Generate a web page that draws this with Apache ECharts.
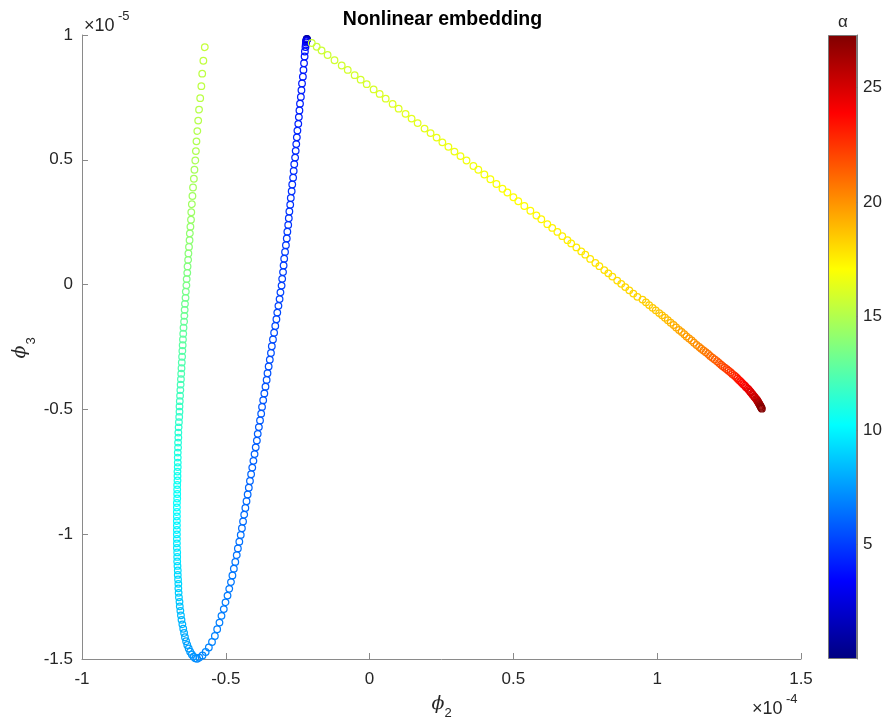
<!DOCTYPE html>
<html>
<head>
<meta charset="utf-8">
<script src="https://cdn.jsdelivr.net/npm/echarts@6/dist/echarts.min.js"></script>
<style>
  html, body { margin: 0; padding: 0; background: #ffffff; }
  #chart { width: 885px; height: 720px; }
</style>
</head>
<body>
<div id="chart"></div>
<script>
// Nonlinear embedding: trajectory in the (phi2, phi3) plane, coloured by alpha.
// phi2 values are in units of 1e-4, phi3 values in units of 1e-5.

// Descending branch (starts at the top, runs down to the bottom of the U)
const descentPhi2 = [
  -0.218, -0.218, -0.219, -0.219, -0.220, -0.220, -0.221, -0.222, -0.223, -0.225,
  -0.226, -0.228, -0.230, -0.232, -0.235, -0.237, -0.239, -0.242, -0.244, -0.246,
  -0.248, -0.251, -0.253, -0.255, -0.257, -0.259, -0.262, -0.264, -0.266, -0.269,
  -0.271, -0.274, -0.276, -0.279, -0.281, -0.283, -0.286, -0.288, -0.291, -0.294,
  -0.297, -0.299, -0.301, -0.304, -0.306, -0.310, -0.313, -0.317, -0.321, -0.324,
  -0.328, -0.332, -0.336, -0.340, -0.343, -0.347, -0.351, -0.355, -0.358, -0.362,
  -0.366, -0.370, -0.374, -0.377, -0.381, -0.385, -0.389, -0.392, -0.396, -0.400,
  -0.404, -0.408, -0.412, -0.416, -0.420, -0.424, -0.428, -0.432, -0.436, -0.440,
  -0.444, -0.448, -0.453, -0.458, -0.462, -0.467, -0.472, -0.477, -0.482, -0.488,
  -0.494, -0.501, -0.507, -0.515, -0.522, -0.530, -0.538, -0.548, -0.559, -0.570,
  -0.581, -0.592
];
const descentPhi3 = [
  0.984, 0.983, 0.982, 0.980, 0.978, 0.975, 0.970, 0.962, 0.952, 0.934,
  0.914, 0.887, 0.860, 0.833, 0.806, 0.779, 0.752, 0.725, 0.698, 0.671,
  0.644, 0.617, 0.590, 0.563, 0.536, 0.509, 0.482, 0.455, 0.428, 0.401,
  0.374, 0.347, 0.320, 0.293, 0.266, 0.239, 0.212, 0.185, 0.158, 0.131,
  0.104, 0.077, 0.050, 0.023, -0.004, -0.031, -0.058, -0.085, -0.112, -0.139,
  -0.166, -0.193, -0.220, -0.247, -0.274, -0.301, -0.328, -0.355, -0.382, -0.409,
  -0.436, -0.463, -0.490, -0.517, -0.544, -0.571, -0.598, -0.625, -0.652, -0.679,
  -0.706, -0.733, -0.760, -0.787, -0.814, -0.841, -0.868, -0.895, -0.922, -0.949,
  -0.976, -1.003, -1.030, -1.057, -1.084, -1.111, -1.138, -1.165, -1.192, -1.219,
  -1.246, -1.273, -1.300, -1.327, -1.354, -1.381, -1.408, -1.432, -1.454, -1.472,
  -1.486, -1.495
];
const descentAlpha = [
  0.3, 0.8, 1.3, 1.8, 2.3, 2.7, 3.1, 3.4, 3.7, 3.9,
  4.0, 4.0, 4.1, 4.1, 4.1, 4.2, 4.2, 4.2, 4.3, 4.3,
  4.3, 4.4, 4.4, 4.4, 4.5, 4.5, 4.5, 4.6, 4.6, 4.6,
  4.7, 4.7, 4.7, 4.8, 4.8, 4.8, 4.9, 4.9, 4.9, 5.0,
  5.0, 5.0, 5.1, 5.1, 5.1, 5.2, 5.2, 5.2, 5.3, 5.3,
  5.3, 5.4, 5.4, 5.4, 5.5, 5.5, 5.5, 5.6, 5.6, 5.6,
  5.7, 5.7, 5.7, 5.8, 5.8, 5.8, 5.9, 5.9, 5.9, 6.0,
  6.0, 6.0, 6.1, 6.1, 6.1, 6.2, 6.2, 6.2, 6.3, 6.3,
  6.3, 6.4, 6.4, 6.4, 6.5, 6.5, 6.5, 6.6, 6.6, 6.6,
  6.7, 6.7, 6.7, 6.8, 6.8, 6.8, 6.9, 6.9, 6.9, 7.0,
  7.0, 7.0
];

// Rising branch (left side of the U, bottom to top)
const risePhi2 = [
  -0.600, -0.606, -0.612, -0.618, -0.624, -0.629, -0.634, -0.638, -0.642, -0.645,
  -0.648, -0.651, -0.654, -0.656, -0.658, -0.660, -0.661, -0.663, -0.664, -0.665,
  -0.665, -0.666, -0.667, -0.667, -0.668, -0.669, -0.669, -0.669, -0.670, -0.670,
  -0.670, -0.670, -0.670, -0.670, -0.670, -0.670, -0.670, -0.670, -0.670, -0.669,
  -0.669, -0.669, -0.669, -0.668, -0.668, -0.668, -0.667, -0.667,
  -0.667, -0.667, -0.666, -0.666, -0.665, -0.665, -0.664, -0.663, -0.662, -0.661,
  -0.661, -0.660, -0.659, -0.658, -0.657, -0.656, -0.655, -0.654, -0.653, -0.652,
  -0.651, -0.650, -0.649, -0.648, -0.647, -0.645, -0.644, -0.643, -0.642, -0.640,
  -0.639, -0.637, -0.636, -0.634, -0.633, -0.631, -0.630, -0.628, -0.626, -0.625,
  -0.623, -0.621,
  -0.620, -0.618, -0.616, -0.614, -0.611, -0.609, -0.606, -0.604, -0.602, -0.599,
  -0.596, -0.593, -0.589, -0.585, -0.582, -0.578, -0.573
];
const risePhi3 = [
  -1.499, -1.497, -1.491, -1.482, -1.471, -1.458, -1.444, -1.429, -1.413, -1.396,
  -1.379, -1.361, -1.343, -1.325, -1.307, -1.289, -1.271, -1.253, -1.235, -1.217,
  -1.199, -1.181, -1.163, -1.145, -1.127, -1.109, -1.091, -1.073, -1.055, -1.037,
  -1.019, -1.001, -0.983, -0.965, -0.947, -0.929, -0.911, -0.893, -0.875, -0.857,
  -0.839, -0.821, -0.803, -0.785, -0.767, -0.749, -0.731, -0.713,
  -0.693, -0.673, -0.653, -0.633, -0.613, -0.593, -0.572, -0.551, -0.530, -0.509,
  -0.488, -0.467, -0.445, -0.423, -0.401, -0.379, -0.357, -0.335, -0.312, -0.289,
  -0.266, -0.243, -0.220, -0.197, -0.173, -0.149, -0.125, -0.101, -0.077, -0.053,
  -0.028, -0.003, 0.022, 0.047, 0.073, 0.099, 0.125, 0.151, 0.178, 0.205,
  0.232, 0.260,
  0.290, 0.322, 0.355, 0.389, 0.424, 0.460, 0.497, 0.535, 0.574, 0.615,
  0.657, 0.701, 0.747, 0.795, 0.845, 0.897, 0.951
];
const riseAlpha = [
  7.1, 7.2, 7.3, 7.4, 7.5, 7.6, 7.7, 7.8, 7.9, 8.0,
  8.1, 8.2, 8.3, 8.4, 8.5, 8.6, 8.7, 8.8, 8.9, 9.0,
  9.1, 9.2, 9.2, 9.3, 9.4, 9.4, 9.5, 9.6, 9.6, 9.7,
  9.8, 9.8, 9.9, 10.0, 10.0, 10.1, 10.2, 10.2, 10.3, 10.4,
  10.4, 10.5, 10.6, 10.6, 10.7, 10.8, 10.8, 10.9,
  11.0, 11.1, 11.2, 11.2, 11.3, 11.4, 11.5, 11.6, 11.6, 11.7,
  11.8, 11.9, 12.0, 12.0, 12.1, 12.2, 12.3, 12.4, 12.4, 12.5,
  12.6, 12.7, 12.8, 12.8, 12.9, 13.0, 13.1, 13.2, 13.2, 13.3,
  13.4, 13.5, 13.6, 13.6, 13.7, 13.8, 13.9, 14.0, 14.0, 14.1,
  14.2, 14.3,
  14.4, 14.5, 14.5, 14.6, 14.7, 14.7, 14.8, 14.9, 14.9, 15.0,
  15.1, 15.1, 15.2, 15.3, 15.3, 15.4, 15.5
];

// Sweeping branch (from the top down to the lower right end)
const sweepPhi2 = [
  -0.201, -0.184, -0.167, -0.146, -0.122, -0.097, -0.076, -0.052, -0.031, -0.010,
  0.014, 0.035, 0.056, 0.080, 0.101, 0.125, 0.146, 0.167, 0.191, 0.212,
  0.233, 0.253, 0.274, 0.295, 0.316, 0.337, 0.361, 0.378, 0.399, 0.420,
  0.441, 0.462, 0.479, 0.500, 0.517, 0.538, 0.559, 0.580, 0.597, 0.618,
  0.635, 0.653, 0.670, 0.688, 0.701, 0.719, 0.736, 0.750, 0.767, 0.785,
  0.799, 0.816, 0.830, 0.844, 0.861, 0.875, 0.889, 0.903, 0.917, 0.931,
  0.949, 0.961, 0.972, 0.984, 0.995, 1.007,
  1.017, 1.027, 1.037, 1.047, 1.057, 1.066, 1.076,
  1.085, 1.094, 1.102, 1.111, 1.120, 1.128, 1.137, 1.146,
  1.153, 1.161, 1.169, 1.177, 1.184, 1.192, 1.200, 1.208, 1.215,
  1.222, 1.228, 1.235, 1.242, 1.248, 1.255, 1.261, 1.268, 1.274,
  1.279, 1.284, 1.289, 1.294, 1.299, 1.305, 1.309, 1.315, 1.319,
  1.323, 1.326, 1.330, 1.333, 1.337, 1.340, 1.344, 1.347,
  1.349, 1.351, 1.353, 1.355, 1.357, 1.359, 1.360, 1.362, 1.364
];
const sweepPhi3 = [
  0.968, 0.953, 0.938, 0.920, 0.899, 0.878, 0.860, 0.839, 0.821, 0.803,
  0.782, 0.764, 0.745, 0.724, 0.705, 0.684, 0.665, 0.647, 0.625, 0.607,
  0.589, 0.570, 0.552, 0.533, 0.515, 0.497, 0.475, 0.460, 0.441, 0.422,
  0.403, 0.384, 0.369, 0.350, 0.334, 0.315, 0.296, 0.277, 0.262, 0.242,
  0.227, 0.211, 0.194, 0.178, 0.165, 0.149, 0.133, 0.120, 0.103, 0.087,
  0.074, 0.058, 0.045, 0.032, 0.016, 0.003, -0.010, -0.023, -0.036, -0.049,
  -0.060, -0.071, -0.082, -0.093, -0.103, -0.114,
  -0.123, -0.133, -0.143, -0.153, -0.162, -0.172, -0.182,
  -0.190, -0.199, -0.208, -0.216, -0.224, -0.233, -0.242, -0.250,
  -0.257, -0.264, -0.271, -0.278, -0.286, -0.293, -0.300, -0.307, -0.314,
  -0.321, -0.327, -0.333, -0.339, -0.345, -0.351, -0.358, -0.364, -0.370,
  -0.376, -0.382, -0.387, -0.393, -0.399, -0.405, -0.411, -0.417, -0.422,
  -0.428, -0.432, -0.438, -0.442, -0.448, -0.452, -0.458, -0.462,
  -0.466, -0.470, -0.474, -0.478, -0.482, -0.486, -0.489, -0.493, -0.497
];
const sweepAlpha = [
  15.6, 15.6, 15.7, 15.7, 15.8, 15.8, 15.9, 15.9, 15.9, 16.0,
  16.0, 16.1, 16.1, 16.2, 16.2, 16.3, 16.3, 16.3, 16.4, 16.4,
  16.5, 16.5, 16.6, 16.6, 16.7, 16.7, 16.7, 16.8, 16.8, 16.9,
  16.9, 17.0, 17.0, 17.1, 17.1, 17.1, 17.2, 17.2, 17.3, 17.3,
  17.4, 17.4, 17.5, 17.5, 17.5, 17.6, 17.6, 17.7, 17.7, 17.8,
  17.8, 17.9, 17.9, 17.9, 18.0, 18.0, 18.1, 18.1, 18.2, 18.2,
  18.3, 18.4, 18.4, 18.5, 18.6, 18.6,
  18.7, 18.8, 18.9, 19.0, 19.2, 19.3, 19.4,
  19.5, 19.6, 19.7, 19.8, 19.9, 20.0, 20.1, 20.2,
  20.4, 20.5, 20.7, 20.8, 21.0, 21.1, 21.3, 21.4, 21.6,
  21.8, 21.9, 22.1, 22.2, 22.4, 22.5, 22.7, 22.8, 23.0,
  23.2, 23.3, 23.5, 23.7, 23.8, 24.0, 24.2, 24.3, 24.5,
  24.6, 24.8, 24.9, 25.0, 25.1, 25.3, 25.4, 25.5,
  25.7, 25.9, 26.1, 26.3, 26.5, 26.7, 26.9, 27.1, 27.3
];

// Colour scale limits and axis ticks
const alphaRange = [0, 27.3];
const alphaTicks = [5, 10, 15, 20, 25];
const phi2Ticks = [-1, -0.5, 0, 0.5, 1, 1.5];
const phi3Ticks = [-1.5, -1, -0.5, 0, 0.5, 1];

// Jet colormap sampled at eighths
const jet = ['#000080', '#0000ff', '#0080ff', '#00ffff', '#80ff80',
             '#ffff00', '#ff8000', '#ff0000', '#800000'];

const points = [];
[[descentPhi2, descentPhi3, descentAlpha],
 [risePhi2, risePhi3, riseAlpha],
 [sweepPhi2, sweepPhi3, sweepAlpha]].forEach(([xs, ys, as]) => {
  xs.forEach((x, i) => points.push([x, ys[i], as[i]]));
});

const FONT = '"Liberation Sans", Arial, Helvetica, sans-serif';
const AXIS_GREY = '#8a8a8a';
const TEXT = '#262626';

function label(x, y, text, font, extra) {
  return Object.assign({
    type: 'text', x: x, y: y, silent: true,
    style: {
      text: text, font: font, fill: TEXT,
      align: 'left', verticalAlign: 'middle',
      textAlign: 'left', textVerticalAlign: 'middle'
    }
  }, extra || {});
}
function centred(x, y, text, font, extra) {
  const el = label(x, y, text, font, extra);
  el.style.align = 'center';
  el.style.textAlign = 'center';
  return el;
}

const chart = echarts.init(document.getElementById('chart'), null, { renderer: 'canvas' });

chart.setOption({
  animation: false,
  backgroundColor: '#ffffff',
  title: {
    text: 'Nonlinear embedding',
    left: 'center',
    top: 10,
    padding: 0,
    textStyle: { fontFamily: FONT, fontSize: 19.5, fontWeight: 'bold', color: '#000000' }
  },
  grid: [
    { left: 82, top: 35, right: 84, bottom: 61, containLabel: false },
    { left: 828, top: 35, width: 30, height: 624, containLabel: false }
  ],
  xAxis: [
    {
      type: 'value', gridIndex: 0,
      min: phi2Ticks[0], max: phi2Ticks[phi2Ticks.length - 1], interval: 0.5,
      axisLine: { show: true, onZero: false, lineStyle: { color: AXIS_GREY, width: 1 } },
      axisTick: { show: true, inside: true, length: 6, lineStyle: { color: AXIS_GREY, width: 1 } },
      axisLabel: { color: TEXT, fontFamily: FONT, fontSize: 17, margin: 12 },
      splitLine: { show: false }
    },
    {
      type: 'category', gridIndex: 1, data: ['α'], show: false
    }
  ],
  yAxis: [
    {
      type: 'value', gridIndex: 0,
      min: phi3Ticks[0], max: phi3Ticks[phi3Ticks.length - 1], interval: 0.5,
      axisLine: { show: true, onZero: false, lineStyle: { color: AXIS_GREY, width: 1 } },
      axisTick: { show: true, inside: true, length: 6, lineStyle: { color: AXIS_GREY, width: 1 } },
      axisLabel: { color: TEXT, fontFamily: FONT, fontSize: 17, margin: 9 },
      splitLine: { show: false }
    },
    {
      type: 'value', gridIndex: 1, position: 'right',
      min: alphaRange[0], max: alphaRange[1], interval: alphaTicks[1] - alphaTicks[0],
      axisLine: { show: true, lineStyle: { color: '#7a7a7a', width: 1 } },
      axisTick: { show: true, inside: true, length: 6, lineStyle: { color: '#555555', width: 1 } },
      axisLabel: {
        color: TEXT, fontFamily: FONT, fontSize: 17, margin: 6,
        showMinLabel: false, showMaxLabel: false,
        formatter: (v) => (alphaTicks.indexOf(v) >= 0 ? String(v) : '')
      },
      splitLine: { show: false }
    }
  ],
  visualMap: {
    type: 'continuous',
    show: false,
    seriesIndex: 0,
    dimension: 2,
    min: alphaRange[0],
    max: alphaRange[1],
    inRange: { color: jet }
  },
  graphic: [
    // exponent for the phi3 axis
    label(84, 26, '×10', '18px ' + FONT),
    label(118, 16, '-5', '13px ' + FONT),
    // exponent for the phi2 axis
    label(752, 709, '×10', '18px ' + FONT),
    label(786, 699, '-4', '13px ' + FONT),
    // x axis name: phi_2
    centred(438, 704, 'ϕ', 'italic 19px "DejaVu Serif", serif'),
    centred(448, 713, '2', '13px ' + FONT),
    // y axis name: phi_3 (rotated)
    centred(20, 352, 'ϕ', 'italic 19px "DejaVu Serif", serif', { rotation: Math.PI / 2 }),
    centred(31, 341, '3', '13px ' + FONT, { rotation: Math.PI / 2 }),
    // colorbar title
    centred(843, 22, 'α', '17px ' + FONT)
  ],
  series: [
    {
      type: 'custom',
      xAxisIndex: 0,
      yAxisIndex: 0,
      encode: { x: 0, y: 1 },
      data: points,
      silent: true,
      renderItem: (params, api) => {
        const p = api.coord([api.value(0), api.value(1)]);
        return {
          type: 'circle',
          shape: { cx: p[0], cy: p[1], r: 3.3 },
          style: { fill: 'none', stroke: api.visual('color'), lineWidth: 1.25 }
        };
      }
    },
    {
      // colorbar drawn as a single gradient bar spanning the alpha range
      type: 'bar',
      xAxisIndex: 1,
      yAxisIndex: 1,
      data: [alphaRange[1]],
      barWidth: '100%',
      silent: true,
      itemStyle: {
        borderColor: '#7a7a7a',
        borderWidth: 1,
        color: {
          type: 'linear', x: 0, y: 1, x2: 0, y2: 0,
          colorStops: jet.map((c, i) => ({ offset: i / (jet.length - 1), color: c }))
        }
      }
    }
  ]
});
</script>
</body>
</html>
